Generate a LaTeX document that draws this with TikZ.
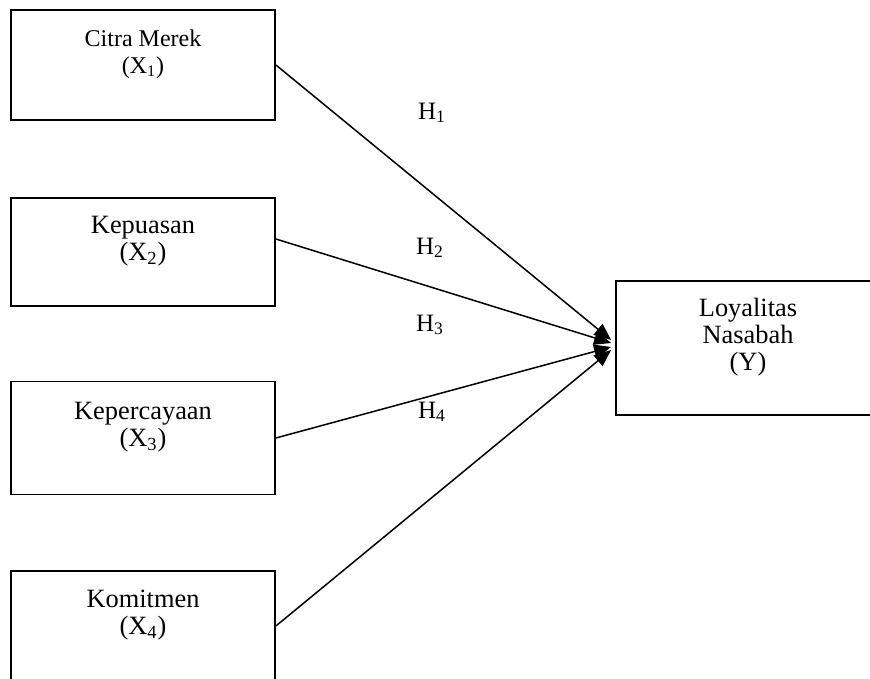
\documentclass[tikz,border=0pt]{standalone}
\usepackage{fontspec}
\setmainfont{Liberation Serif}
\usetikzlibrary{arrows.meta,calc}

\begin{document}
\begin{tikzpicture}[x=0.5pt,y=-0.5pt,
  varbox/.style={draw,line width=0.9pt,align=center,inner sep=0pt,
    minimum width=132pt,font=\fontsize{13.2}{13.6}\selectfont},
  hyp/.style={line width=0.75pt,-{Triangle[length=8.5pt,width=7pt]}},
  hlabel/.style={font=\fontsize{12.5}{13.6}\selectfont}]
\useasboundingbox (0,0) rectangle (870,678);
\def\bx{143};
% independent variables
\node[varbox,minimum height=55pt,font=\fontsize{12}{13.6}\selectfont] (X1) at (\bx,65) {Citra Merek\\(X\textsubscript{1})\\\mbox{}};
\node[varbox,minimum height=54pt] (X2) at (\bx,252) {Kepuasan\\(X\textsubscript{2})\\\mbox{}};
\node[varbox,minimum height=56.5pt] (X3) at (\bx,438) {Kepercayaan\\(X\textsubscript{3})\\\mbox{}};
\node[varbox,minimum height=55pt] (X4) at (\bx,626) {Komitmen\\(X\textsubscript{4})\\\mbox{}};
% dependent variable
\node[varbox,minimum height=67pt] (Y) at (748,348) {Loyalitas\\Nasabah\\(Y)\\\mbox{}};
\coordinate (t1) at ($(Y.west)+(-4,-8)$);
\coordinate (t2) at ($(Y.west)+(-4,-5)$);
\coordinate (t3) at ($(Y.west)+(-4,-1)$);
\coordinate (t4) at ($(Y.west)+(-4,2)$);
\draw[hyp] (X1.east) -- (t1);
\draw[hyp] ([yshift=6.5pt]X2.east) -- (t2);
\draw[hyp] (X3.east) -- (t3);
\draw[hyp] (X4.east) -- (t4);
% hypotheses
\node[hlabel] (H1) at (432,113) {H\textsubscript{1}};
\node[hlabel] (H2) at (430,248) {H\textsubscript{2}};
\node[hlabel] (H3) at (430,325) {H\textsubscript{3}};
\node[hlabel] (H4) at (432,412) {H\textsubscript{4}};
\end{tikzpicture}
\end{document}
